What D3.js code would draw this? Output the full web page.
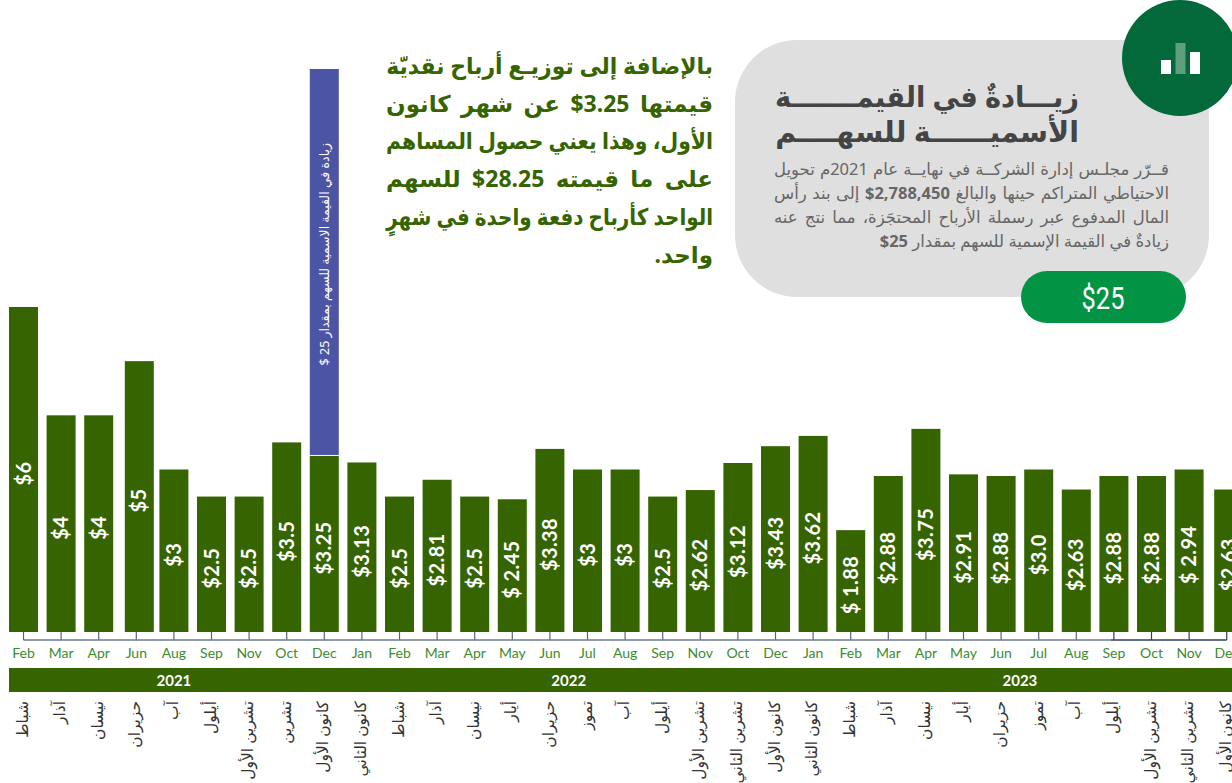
<!DOCTYPE html>
<html>
<head>
<meta charset="utf-8">
<script src="https://cdn.jsdelivr.net/npm/d3@7"></script>
<style>
  html, body { margin: 0; padding: 0; background: #fff; overflow: hidden; }
  svg { display: block; }
  .xAxis text { font-family: Lato, sans-serif; font-size: 14px; fill: #3d8b2d; }
  .ar { font-family: "Noto Sans", "DejaVu Sans", sans-serif; direction: rtl; }
</style>
</head>
<body>
<script>
const WIDTH = 1232;
const HEIGHT = 783;
const BAR_STEP = 37.6;
const BAR_WIDTH = 29;
const BAR_LEFT = 9;
const BASELINE = 632;
const PX_PER_DOLLAR = 54.17;
const BREAK_TOP = 69;
const GREEN = "#356400";

const monthsEn = ["Feb", "Mar", "Apr", "Jun", "Aug", "Sep", "Nov", "Oct", "Dec", "Jan",
  "Feb", "Mar", "Apr", "May", "Jun", "Jul", "Aug", "Sep", "Nov", "Oct", "Dec", "Jan",
  "Feb", "Mar", "Apr", "May", "Jun", "Jul", "Aug", "Sep", "Oct", "Nov", "Dec"];
const monthsAr = ["شباط", "آذار", "نيسان", "حزيران", "آب", "أيلول", "تشرين الأول", "تشرين", "كانون الأول", "كانون الثاني",
  "شباط", "آذار", "نيسان", "أيار", "حزيران", "تموز", "آب", "أيلول", "تشرين الأول", "تشرين الثاني", "كانون الأول", "كانون الثاني",
  "شباط", "آذار", "نيسان", "أيار", "حزيران", "تموز", "آب", "أيلول", "تشرين الأول", "تشرين الثاني", "كانون الأول"];
const dividends = [6, 4, 4, 5, 3, 2.5, 2.5, 3.5, 3.25, 3.13,
  2.5, 2.81, 2.5, 2.45, 3.38, 3, 3, 2.5, 2.62, 3.12, 3.43, 3.62,
  1.88, 2.88, 3.75, 2.91, 2.88, 3, 2.63, 2.88, 2.88, 3, 2.63];
const dividendLabels = ["$6", "$4", "$4", "$5", "$3", "$2.5", "$2.5", "$3.5", "$3.25", "$3.13",
  "$2.5", "$2.81", "$2.5", "$ 2.45", "$3.38", "$3", "$3", "$2.5", "$2.62", "$3.12", "$3.43", "$3.62",
  "$ 1.88", "$2.88", "$3.75", "$2.91", "$2.88", "$3.0", "$2.63", "$2.88", "$2.88", "$ 2.94", "$2.63"];
const years = ["2021", "2022", "2023"];
const yearFirst = [0, 9, 21];
const yearLast = [8, 20, 32];

const bonusIndex = 8;
const bonusValue = 25;
const bonusLabel = "زيادة في القيمة الاسمية للسهم بمقدار \u2066$ 25\u2069";

const noteLines = [
  "بالإضافة إلى توزيـع أرباح نقديّة",
  "قيمتها \u2066$3.25\u2069 عن شهر كانون",
  "الأول، وهذا يعني حصول المساهم",
  "على ما قيمته \u2066$28.25\u2069 للسهم",
  "الواحد كأرباح دفعة واحدة في شهرٍ",
  "واحد."
];
const titleLines = ["زيـــادةٌ في القيمـــــــ\u200dة", "الأسميــــــة للسهــــم"];
const bodyLines = [
  [["قــرّر مجلـس إدارة الشركــة في نهايــة عام 2021م تحويل", 400]],
  [["الاحتياطي المتراكم حينها والبالغ ", 400], ["\u2066$2,788,450\u2069", 700], [" إلى بند رأس", 400]],
  [["المال المدفوع عبر رسملة الأرباح المحتجَزة، مما نتج عنه", 400]],
  [["زيادةٌ في القيمة الإسمية للسهم بمقدار ", 400], ["\u2066$25\u2069", 700]]
];
const iconBars = [14, 31, 22];

const svg = d3.select("body").append("svg").attr("width", WIDTH).attr("height", HEIGHT);

const x = d3.scaleBand()
  .domain(d3.range(dividends.length))
  .range([BAR_LEFT, BAR_LEFT + dividends.length * BAR_STEP - (BAR_STEP - BAR_WIDTH)])
  .paddingInner(1 - BAR_WIDTH / BAR_STEP)
  .paddingOuter(0);
const y = d3.scaleLinear().domain([0, 6]).range([BASELINE, BASELINE - 6 * PX_PER_DOLLAR]);

// a couple of bars sit a little off the grid in the original
const barX = i => x(i) + (i === 3 ? 3 : i === 32 ? 2 : 0);

drawPanel();
drawNote();
drawBars();
drawAxis();
drawYears();
drawArabicMonths();

// fit a line to a full measure: wider word gaps if short, squeeze it if long
function justify(text, measure, right) {
  const gaps = text.text().split(" ").length - 1;
  const len = text.node().getComputedTextLength();
  if (len <= measure) {
    if (gaps > 0) text.style("word-spacing", (measure - len) / gaps + "px");
  } else {
    text.attr("transform", `translate(${right},0) scale(${measure / len},1) translate(${-right},0)`);
  }
}

function drawBars() {
  const g = svg.append("g");
  g.selectAll("rect.bar")
    .data(dividends)
    .enter()
    .append("rect")
    .attr("class", "bar")
    .attr("x", (_, i) => barX(i))
    .attr("width", x.bandwidth())
    .attr("y", d => y(d))
    .attr("height", d => y(0) - y(d))
    .attr("fill", GREEN);

  // bonus bar runs off the scale, so it is cut at BREAK_TOP
  const bonusBase = y(dividends[bonusIndex]) - 1;
  const bonusTop = Math.max(BREAK_TOP, y(dividends[bonusIndex] + bonusValue));
  g.append("rect")
    .attr("x", barX(bonusIndex))
    .attr("width", x.bandwidth())
    .attr("y", bonusTop)
    .attr("height", bonusBase - bonusTop)
    .attr("fill", "#4c54a4");
  g.append("text")
    .attr("class", "ar")
    .attr("transform", `translate(${barX(bonusIndex) + x.bandwidth() / 2 + 5},143) rotate(-90)`)
    .attr("text-anchor", "start")
    .attr("font-size", 12.5)
    .attr("fill", "#fff")
    .text(bonusLabel);

  g.selectAll("text.val")
    .data(dividends)
    .enter()
    .append("text")
    .attr("class", "val")
    .attr("transform", (d, i) => `translate(${barX(i) + x.bandwidth() / 2 + 7},${(y(d) + y(0)) / 2 + 4}) rotate(-90)`)
    .attr("text-anchor", "middle")
    .attr("font-family", "Lato, sans-serif")
    .attr("font-weight", 700)
    .attr("font-size", 20)
    .attr("letter-spacing", 0.4)
    .attr("fill", "#fff")
    .text((_, i) => dividendLabels[i]);
}

function drawAxis() {
  const axis = d3.axisBottom(x)
    .tickSize(8)
    .tickSizeOuter(0)
    .tickPadding(8)
    .tickFormat(i => monthsEn[i]);
  const g = svg.append("g")
    .attr("class", "xAxis")
    .attr("transform", `translate(0,${BASELINE})`)
    .call(axis);
  g.select(".domain").remove();
  g.selectAll(".tick line").attr("stroke", (_, i) => (i >= 29 ? "#2c4160" : "#56677f")).attr("stroke-width", 1.2);
  const mid = i => x(i) + x.bandwidth() / 2;
  g.append("line").attr("x1", mid(0)).attr("x2", mid(29) - 3).attr("y1", 8).attr("y2", 8)
    .attr("stroke", "#6b7a8f").attr("stroke-width", 1.5);
  g.append("line").attr("x1", mid(29) - 3).attr("x2", mid(32)).attr("y1", 8).attr("y2", 8)
    .attr("stroke", "#2c4160").attr("stroke-width", 1.5);
}

function drawYears() {
  svg.append("rect")
    .attr("x", BAR_LEFT).attr("y", 668)
    .attr("width", WIDTH - BAR_LEFT).attr("height", 24)
    .attr("fill", GREEN);
  svg.selectAll("text.year")
    .data(years)
    .enter()
    .append("text")
    .attr("class", "year")
    .attr("x", (_, i) => (x(yearFirst[i]) + x(yearLast[i]) + x.bandwidth()) / 2)
    .attr("y", 686)
    .attr("text-anchor", "middle")
    .attr("font-family", "Lato, sans-serif")
    .attr("font-weight", 700)
    .attr("font-size", 15)
    .attr("fill", "#fff")
    .text(d => d);
}

function drawArabicMonths() {
  svg.selectAll("text.arMonth")
    .data(monthsAr)
    .enter()
    .append("text")
    .attr("class", "arMonth ar")
    .attr("transform", (_, i) => `translate(${x(i) + x.bandwidth() / 2 + 4},701) rotate(-90)`)
    .attr("text-anchor", "start")
    .attr("font-size", 15.5)
    .attr("fill", "#333")
    .text(d => d);
}

function drawNote() {
  svg.selectAll("text.note")
    .data(noteLines)
    .enter()
    .append("text")
    .attr("class", "note ar")
    .attr("x", 713)
    .attr("y", (_, i) => 74 + i * 37.7)
    .attr("text-anchor", "start")
    .attr("font-size", 23)
    .attr("font-weight", 700)
    .attr("fill", GREEN)
    .text(d => d)
    .each(function (_, i) {
      if (i < noteLines.length - 1) justify(d3.select(this), 327, 713);
    });
}

function drawPanel() {
  svg.append("rect")
    .attr("x", 735).attr("y", 40)
    .attr("width", 474).attr("height", 257)
    .attr("rx", 62).attr("ry", 62)
    .attr("fill", "#dfdfdf");
  svg.append("circle").attr("cx", 1180).attr("cy", 58).attr("r", 58).attr("fill", "#04693a");

  const iconX = d3.scaleBand().domain(d3.range(iconBars.length)).range([1161, 1200]).paddingInner(0.31);
  svg.selectAll("rect.icon")
    .data(iconBars)
    .enter()
    .append("rect")
    .attr("class", "icon")
    .attr("x", (_, i) => iconX(i))
    .attr("width", iconX.bandwidth())
    .attr("y", d => 74 - d)
    .attr("height", d => d)
    .attr("fill", (_, i) => (i === 1 ? "#5ea07e" : "#fff"));

  svg.selectAll("text.title")
    .data(titleLines)
    .enter()
    .append("text")
    .attr("class", "title ar")
    .attr("x", 1079)
    .attr("y", (_, i) => 107 + i * 35)
    .attr("text-anchor", "start")
    .attr("font-size", 29)
    .attr("font-weight", 700)
    .attr("fill", "#444")
    .text(d => d)
    .each(function () { justify(d3.select(this), 304, 1079); });

  const body = svg.selectAll("text.body")
    .data(bodyLines)
    .enter()
    .append("text")
    .attr("class", "body ar")
    .attr("x", 1169)
    .attr("y", (_, i) => 175 + i * 24)
    .attr("text-anchor", "start")
    .attr("font-size", 16.5)
    .attr("fill", "#666");
  body.selectAll("tspan")
    .data(d => d)
    .enter()
    .append("tspan")
    .attr("font-weight", d => d[1])
    .text(d => d[0]);
  body.each(function (_, i) {
    if (i < bodyLines.length - 1) justify(d3.select(this), 395, 1169);
  });

  svg.append("rect")
    .attr("x", 1021).attr("y", 271)
    .attr("width", 165).attr("height", 52)
    .attr("rx", 26).attr("ry", 26)
    .attr("fill", "#029444");
  svg.append("text")
    .attr("transform", "translate(1103,309) scale(0.82,1)")
    .attr("text-anchor", "middle")
    .attr("font-family", "Roboto, sans-serif")
    .attr("font-size", 31)
    .attr("fill", "#fff")
    .text("$25");
}
</script>
</body>
</html>
